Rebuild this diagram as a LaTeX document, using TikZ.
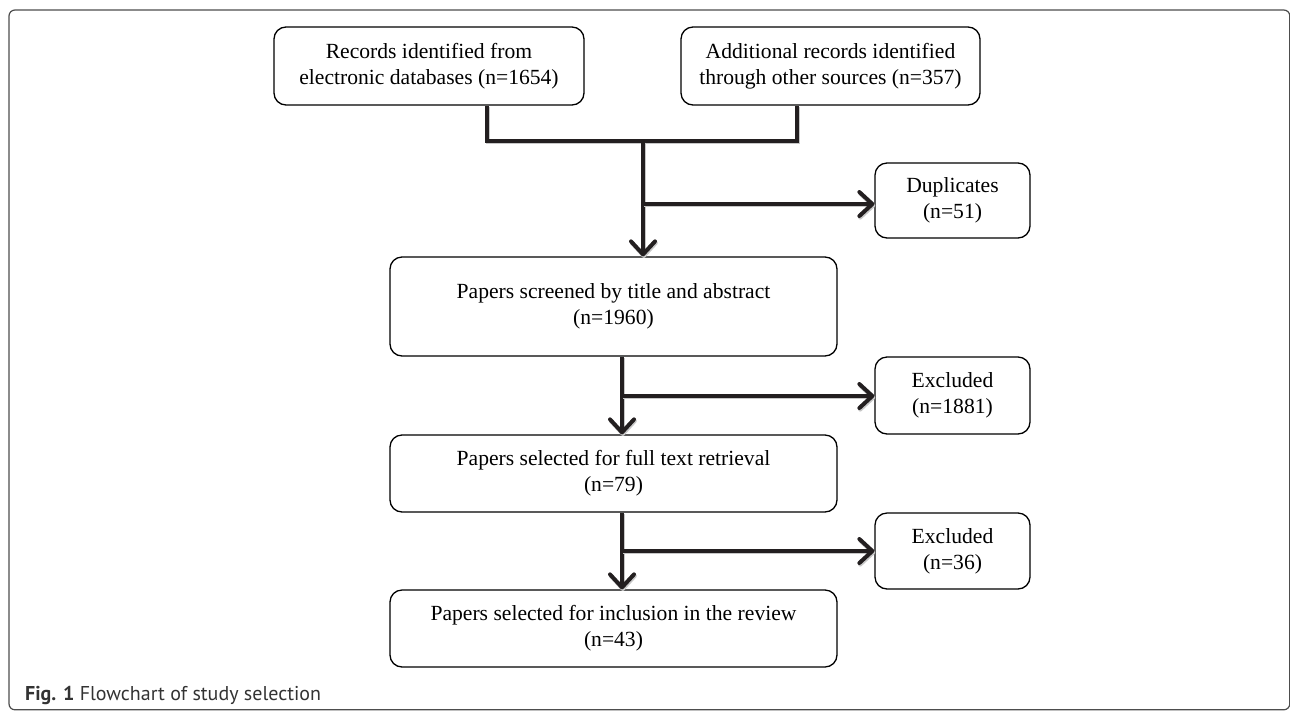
\documentclass[tikz,border=0pt]{standalone}
\usepackage{fontspec}
\setmainfont{Liberation Serif}
\newfontfamily\capfont{PT Sans}
\usetikzlibrary{arrows.meta}
\definecolor{connc}{HTML}{231F20}
\definecolor{framec}{HTML}{4D4D4D}
\tikzset{
  box/.style={draw=black, line width=1.3pt, rounded corners=12pt, align=center,
    font=\fontsize{21.6}{26}\selectfont, inner sep=0pt},
  conn/.style={draw=connc, line width=3.6pt,
    preaction={draw=black!22, line width=3.6pt, transform canvas={shift={(0.8pt,-1.6pt)}}}},
  flowarrow/.style={conn, -{Straight Barb[length=13pt,width=24pt,line width=4pt,round]}},
  framestyle/.style={draw=framec, line width=1.2pt, rounded corners=6pt}
}
\begin{document}
\begin{tikzpicture}[x=1pt,y=-1pt]
\useasboundingbox (0,0) rectangle (1290,710);
\draw[framestyle] (9,10) rectangle (1289.8,709.8);

\node[box, minimum width=310pt, minimum height=78pt] (rec) at (429,66)
  {Records identified from\\electronic databases (n=1654)};
\node[box, minimum width=299pt, minimum height=78pt] (add) at (830.5,66)
  {Additional records identified\\through other sources (n=357)};
\node[box, minimum width=155pt, minimum height=75pt] (dup) at (952.5,200.5)
  {Duplicates\\(n=51)};
\node[box, minimum width=447pt, minimum height=99pt] (scr) at (613.5,306.5)
  {Papers screened by title and abstract\\(n=1960)};
\node[box, minimum width=155pt, minimum height=77pt] (exa) at (952.5,395.5)
  {Excluded\\(n=1881)};
\node[box, minimum width=447pt, minimum height=77pt] (ful) at (613.5,473.5)
  {Papers selected for full text retrieval\\(n=79)};
\node[box, minimum width=155pt, minimum height=76pt] (exb) at (952.5,551)
  {Excluded\\(n=36)};
\node[box, minimum width=447pt, minimum height=77pt] (inc) at (613.5,628.5)
  {Papers selected for inclusion in the review\\(n=43)};

\coordinate (jl) at (487,141);
\coordinate (jr) at (797,141);
\coordinate (jm) at (643,141);
\coordinate (b1) at (643,204);
\coordinate (v2) at (622,300);
\coordinate (b2) at (622,396);
\coordinate (b3) at (622,551);

\draw[conn] (rec.south -| jl) -- (jl) -- (jr) -- (add.south -| jr);
\draw[flowarrow] (jm) -- (scr.north -| jm);
\draw[flowarrow] (b1) -- (dup.west |- b1);
\draw[flowarrow] (scr.south -| v2) -- (ful.north -| v2);
\draw[flowarrow] (b2) -- (exa.west |- b2);
\draw[flowarrow] (ful.south -| v2) -- (inc.north -| v2);
\draw[flowarrow] (b3) -- (exb.west |- b3);

\node[anchor=base west, inner sep=0pt, text=black!80,
  font=\capfont\fontsize{20}{22}\selectfont] (cap) at (25,700)
  {\textbf{Fig. 1} Flowchart of study selection};
\end{tikzpicture}
\end{document}
